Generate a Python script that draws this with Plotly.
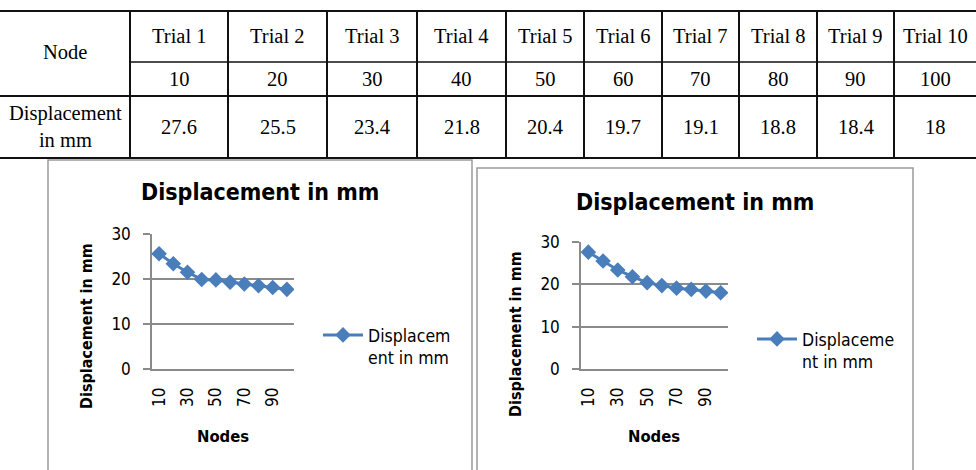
import plotly.graph_objects as go

# ---------------- data ----------------
trial_labels = ["Trial 1", "Trial 2", "Trial 3", "Trial 4", "Trial 5",
                "Trial 6", "Trial 7", "Trial 8", "Trial 9", "Trial 10"]
nodes = [10, 20, 30, 40, 50, 60, 70, 80, 90, 100]
disp_table = [27.6, 25.5, 23.4, 21.8, 20.4, 19.7, 19.1, 18.8, 18.4, 18]
disp_left = [25.6, 23.4, 21.5, 19.9, 19.8, 19.3, 18.9, 18.5, 18.1, 17.7]
disp_right = [27.6, 25.5, 23.4, 21.8, 20.4, 19.7, 19.1, 18.8, 18.4, 18]
x_tick_vals = [10, 30, 50, 70, 90]
y_tick_vals = [0, 10, 20, 30]
row_header = "Node"
row_label = "Displacement<br>in mm"
chart_title = "Displacement in mm"
y_title = "Displacement in mm"
x_title = "Nodes"
legend_left = "Displacem<br>ent in mm"
legend_right = "Displaceme<br>nt in mm"

W, H = 976, 470
def PX(v):
    return v / W
def PY(v):
    return 1 - v / H

BLUE = "#4a7ebb"
GRID = "#8a8a8a"
SANS = "DejaVu Sans Condensed, DejaVu Sans"
SERIF = "Liberation Serif"

fig = go.Figure()

fig.add_trace(go.Scatter(
    x=nodes, y=disp_left, mode="lines+markers", name=legend_left,
    line=dict(color=BLUE, width=3),
    marker=dict(symbol="diamond", size=12, color=BLUE),
    xaxis="x", yaxis="y", legend="legend"))
fig.add_trace(go.Scatter(
    x=nodes, y=disp_right, mode="lines+markers", name=legend_right,
    line=dict(color=BLUE, width=3),
    marker=dict(symbol="diamond", size=12, color=BLUE),
    xaxis="x2", yaxis="y2", legend="legend2"))

def xax(domain, anchor):
    return dict(domain=domain, anchor=anchor, range=[5, 105],
                tickmode="array", tickvals=x_tick_vals,
                ticktext=[str(v) for v in x_tick_vals],
                tickangle=-90, ticks="", ticklabelstandoff=10,
                tickfont=dict(family=SANS, size=17, color="#000"),
                showgrid=False, zeroline=False,
                showline=True, linecolor=GRID, linewidth=1.5, fixedrange=True)

def yax(domain, anchor):
    return dict(domain=domain, anchor=anchor, range=[0, 30],
                tickmode="array", tickvals=y_tick_vals,
                ticks="outside", ticklen=7, tickcolor=GRID, tickwidth=1.5,
                ticklabelstandoff=9,
                tickfont=dict(family=SANS, size=17, color="#000"),
                showgrid=True, gridcolor=GRID, gridwidth=1.5, zeroline=False,
                showline=True, linecolor=GRID, linewidth=1.5, fixedrange=True)

shapes = []
annotations = []

# ---------------- table ----------------
col_edges = [130, 228, 327, 417, 506, 584, 662, 739, 817, 894, 976]
row_top, row_mid, row_2, row_bot = 11, 62, 96, 158
LC = "#111111"
for yv in (row_top, row_2, row_bot):
    shapes.append(dict(type="line", xref="paper", yref="paper",
                       x0=PX(0), x1=PX(976), y0=PY(yv), y1=PY(yv),
                       line=dict(color=LC, width=2)))
shapes.append(dict(type="line", xref="paper", yref="paper",
                   x0=PX(130), x1=PX(976), y0=PY(row_mid), y1=PY(row_mid),
                   line=dict(color=LC, width=1.5)))
for xv in col_edges[:-1]:
    shapes.append(dict(type="line", xref="paper", yref="paper",
                       x0=PX(xv), x1=PX(xv), y0=PY(row_top), y1=PY(row_bot),
                       line=dict(color=LC, width=2)))

tfont = dict(family=SERIF, size=20.5, color="#000")

def tann(x, y, text):
    return dict(x=PX(x), y=PY(y), text=text, showarrow=False,
                xanchor="center", yanchor="middle",
                xref="paper", yref="paper", font=tfont)

annotations.append(tann(65, 52, row_header))
annotations.append(tann(65, 126, row_label))
for i in range(len(trial_labels)):
    cx = (col_edges[i] + col_edges[i + 1]) / 2
    annotations.append(tann(cx, 36, trial_labels[i]))
    annotations.append(tann(cx, 79, str(nodes[i])))
    annotations.append(tann(cx, 127, str(disp_table[i])))

# ---------------- chart frames ----------------
FR = "#9a9a9a"
shapes.append(dict(type="rect", xref="paper", yref="paper",
                   x0=PX(48), x1=PX(472), y0=PY(160), y1=PY(490),
                   line=dict(color=FR, width=1.5)))
shapes.append(dict(type="rect", xref="paper", yref="paper",
                   x0=PX(477), x1=PX(913), y0=PY(168), y1=PY(490),
                   line=dict(color=FR, width=1.5)))

# ---------------- chart texts ----------------
def ann(x, y, text, size, angle=0):
    return dict(x=PX(x), y=PY(y), text=text, showarrow=False, textangle=angle,
                xanchor="center", yanchor="middle",
                xref="paper", yref="paper",
                font=dict(family=SANS, size=size, color="#000"))

annotations += [
    ann(260, 192, "<b>%s</b>" % chart_title, 23),
    ann(695, 202, "<b>%s</b>" % chart_title, 23),
    ann(86, 326, "<b>%s</b>" % y_title, 16, -90),
    ann(515, 334, "<b>%s</b>" % y_title, 16, -90),
    ann(223, 436, "<b>%s</b>" % x_title, 16.5),
    ann(654, 436, "<b>%s</b>" % x_title, 16.5),
]

legfont = dict(family=SANS, size=17.5, color="#000")
fig.update_layout(
    width=W, height=H, autosize=False,
    margin=dict(l=0, r=0, t=0, b=0, pad=0, autoexpand=False),
    paper_bgcolor="white", plot_bgcolor="white",
    showlegend=True,
    xaxis=xax([PX(152), PX(294)], "y"),
    yaxis=yax([PY(369), PY(234)], "x"),
    xaxis2=xax([PX(581), PX(728)], "y2"),
    yaxis2=yax([PY(369), PY(242)], "x2"),
    legend=dict(x=PX(318), y=PY(317), xanchor="left", yanchor="top",
                font=legfont, valign="top", bgcolor="rgba(0,0,0,0)",
                itemwidth=40),
    legend2=dict(x=PX(752), y=PY(321), xanchor="left", yanchor="top",
                 font=legfont, valign="top", bgcolor="rgba(0,0,0,0)",
                 itemwidth=40),
    shapes=shapes,
    annotations=annotations,
)

fig.write_html("out.html", config={"displayModeBar": False})
